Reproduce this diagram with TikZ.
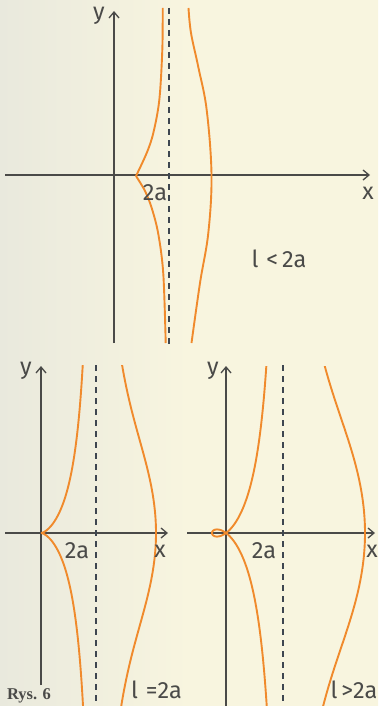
\documentclass[tikz,border=0pt]{standalone}
\usepackage{fontspec}
\setmainfont{Fira Sans}
\newfontfamily\capfont{Liberation Serif}
\usetikzlibrary{arrows.meta}
\definecolor{paper}{HTML}{F8F5DF}
\definecolor{paperl}{HTML}{E9E9DD}
\definecolor{curvec}{HTML}{F08A2C}
\definecolor{axisc}{HTML}{4A4A48}
\definecolor{dashc}{HTML}{3E4650}
\tikzset{
  axis/.style={draw=axisc, line width=1.5pt, -{Straight Barb[length=6pt,width=10pt,line width=1.3pt]}},
  yaxis/.style={draw=axisc, line width=1.5pt, -{Straight Barb[length=6pt,width=10pt,line width=1.3pt]}},
  asym/.style={draw=dashc, line width=1.6pt, dash pattern=on 6pt off 5pt},
  curve/.style={draw=curvec, line width=1.9pt, smooth, line join=miter},
  lbl/.style={text=axisc, font=\fontsize{23.5}{23.5}\selectfont, inner sep=0pt},
}
\begin{document}
\begin{tikzpicture}[x=1pt,y=-1pt]
\useasboundingbox (0,0) rectangle (378,706);
\shade[left color=paperl, right color=paper, middle color=paper] (0,0) rectangle (378,706);

% ---------- top panel: l < 2a ----------
\coordinate (o1) at (114,175);
\draw[axis] (5,175) -- (370,175);
\draw[yaxis] (114,343) -- (114,11);
\draw[asym] (169,8) -- (169,345);
\coordinate (v1) at (136,176);
\draw[curve] plot[smooth, tension=0.55] coordinates
  {(162.7,8) (162.3,50) (159.3,100) (153.3,133) (146.7,153) (v1)};
\draw[curve] plot[smooth, tension=0.55] coordinates
  {(v1) (145,191) (151.7,208) (158.3,234) (163.3,274) (165.7,343)};
\draw[curve] plot[smooth, tension=0.6] coordinates
  {(188.5,8) (191,33) (198.3,67) (206.7,110) (211.5,175) (208.3,233) (200,283) (191.5,343)};
\node[lbl] (y1) at (99,16) {y};
\node[lbl] (a1) at (155,193) {2a};
\node[lbl] (x1) at (368,193) {x};
\node[lbl] (c1) at (279,259) {l\,\,<\,2a};

% ---------- bottom left: l = 2a ----------
\begin{scope}[shift={(41,533)}]
  \draw[axis] (-36,0) -- (127,0);
  \draw[yaxis] (0,152) -- (0,-167);
  \draw[asym] (55,-168) -- (55,173);
  \begin{scope}
    \clip (-60,-168) rectangle (200,173);
    \draw[curve] plot[domain=-1.45:1.45, samples=300, variable=\t]
      ({55-55*cos(\t r)}, {(55-55*cos(\t r))*tan(\t r)});
    \draw[curve] plot[domain=-1.4:1.4, samples=300, variable=\t]
      ({55+60*cos(\t r)}, {(55+60*cos(\t r))*tan(\t r)});
  \end{scope}
\end{scope}
\node[lbl] (y2) at (26,371) {y};
\node[lbl] (a2) at (77,551) {2a};
\node[lbl] (x2) at (160,551) {x};
\node[lbl, anchor=west] (c2) at (131,690) {l\,\,=2a};
\node[text=axisc, font=\capfont\bfseries\fontsize{16.5}{16.5}\selectfont, inner sep=0pt] (rys) at (29,696) {Rys. 6};

% ---------- bottom right: l > 2a ----------
\begin{scope}[shift={(226,533)}]
  \draw[axis] (-39,0) -- (149,0);
  \draw[yaxis] (0,173) -- (0,-167);
  \draw[asym] (57,-168) -- (57,173);
  \begin{scope}
    \clip (-40,-167) rectangle (200,173);
    \draw[curve] plot[domain=-1.45:1.45, samples=400, variable=\t]
      ({57-71*cos(\t r)}, {(57-71*cos(\t r))*tan(\t r)});
    \draw[curve] plot[domain=-1.4:1.4, samples=300, variable=\t]
      ({57+82*cos(\t r)}, {(57+82*cos(\t r))*tan(\t r)});
  \end{scope}
\end{scope}
\node[lbl] (y3) at (213,371) {y};
\node[lbl] (a3) at (264,551) {2a};
\node[lbl] (x3) at (372,551) {x};
\node[lbl, anchor=east] (c3) at (377.5,690) {l\,>2a};
\end{tikzpicture}
\end{document}
